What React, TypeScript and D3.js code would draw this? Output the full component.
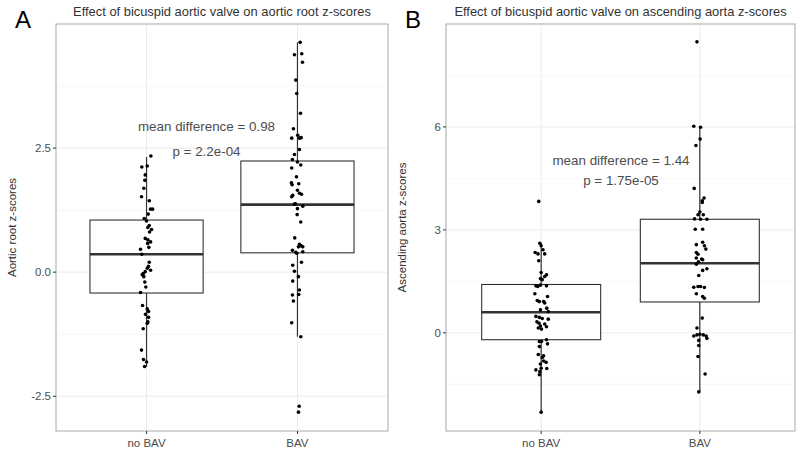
import React from "react";
import * as d3 from "d3";

const categories = ["no BAV", "BAV"];

// Panel A: aortic root z-scores — [value, jitter (1/150 of category step)]
const rootNoBAV: [number, number][] = [
  [2.34, 4.3], [2.12, -4.7], [2.14, 0.7], [1.96, -1.3], [1.85, -1.7], [1.69, -2.7], [1.52, -5], [1.44, 2.7],
  [1.27, 4], [1.27, 6], [1.17, 1.7], [1.08, -2.3], [1.03, 0], [0.94, 2.7], [0.9, 1.3], [0.86, 5], [0.81, 3],
  [0.68, -1.3], [0.65, 1.3], [0.61, 4], [0.58, 1], [0.5, 2.3], [0.46, -6], [0.36, -4.7], [0.2, 2.7], [0.12, 2],
  [0.08, 0.7], [0.04, 4], [0.01, -1.3], [-0.03, -3.3], [-0.05, -4.3], [-0.09, -2.7], [-0.2, -1.7], [-0.3, -0.7],
  [-0.41, -6], [-0.67, -4], [-0.74, 0.7], [-0.79, 2], [-0.85, -1], [-0.91, 2], [-1.0, 1.3], [-1.03, 0.7],
  [-1.14, -3.3], [-1.57, -5], [-1.76, -3], [-1.81, 0], [-1.9, -2],
];
const rootBAV: [number, number][] = [
  [4.63, 2.7], [4.38, -3], [4.4, 4.3], [4.23, 5], [3.87, -1.7], [3.6, -0.7], [3.2, 3], [2.89, -4], [2.76, 0.3],
  [2.7, -5.7], [2.7, 2], [2.71, 3.7], [2.47, 2], [2.37, -3], [2.27, -5], [2.22, 0], [2.16, 3.3], [2.1, -5.7],
  [1.92, -1], [1.8, -6], [1.78, 1.3], [1.76, -5.3], [1.65, 0], [1.59, 2], [1.57, 4], [1.55, -4.7], [1.52, -5.7],
  [1.38, -2], [1.37, -3], [1.33, 5.3], [1.28, 0], [1.16, -0.3], [1.01, 3.3], [0.69, -2.7], [0.56, 2], [0.53, 3.7],
  [0.51, 1], [0.51, 5.3], [0.44, -5], [0.4, -1.7], [0.38, -0.7], [0.41, 5.3], [0.2, 4], [0.14, -4.7],
  [0.02, -3], [-0.09, 1], [-0.18, -4.7], [-0.36, 2], [-0.45, 1.3], [-0.46, -5], [-0.58, -4], [-1.02, -5.7],
  [-1.3, 3.3], [-2.7, 1.7], [-2.82, 1],
];
// box stats: [whiskerLow, q1, median, q3, whiskerHigh]
const rootStats: number[][] = [
  [-1.91, -0.42, 0.36, 1.05, 2.32],
  [-1.3, 0.39, 1.36, 2.24, 4.63],
];
const rootTicks = [-2.5, 0, 2.5];
const rootMinor = [-1.25, 1.25, 3.75];

// Panel B: ascending aorta z-scores
const ascNoBAV: [number, number][] = [
  [3.83, -2.3], [2.61, -1.3], [2.54, 0], [2.34, -5.7], [2.42, 1.7], [2.3, -3], [2.3, 3.3], [2.1, -2.3],
  [1.76, 0], [1.69, 5], [1.64, 3.3], [1.58, -0.7], [1.55, 1], [1.37, -5], [1.35, -3.3], [1.39, -0.7], [1.37, 5],
  [1.14, -6], [1.06, 6], [0.94, -3.7], [0.91, -1.7], [0.91, 2.3], [0.87, 3.3], [0.72, 5.3], [0.67, -0.7],
  [0.62, 6.7], [0.48, -5], [0.45, -1.7], [0.42, 1], [0.4, 6.7], [0.32, -4], [0.28, -2], [0.26, 3.3],
  [0.2, -0.7], [0.18, 5], [0.14, -2.7], [0.11, 0.3], [-0.25, -1.7], [-0.25, 0.3], [-0.2, 5], [-0.32, 6],
  [-0.4, -1.7], [-0.63, -2.7], [-0.67, 2.3], [-0.72, 1], [-0.82, 2.3], [-0.86, 4.7], [-0.91, -0.7],
  [-1.03, 0], [-1.08, -5], [-1.04, 5.3], [-1.13, -1.3], [-1.22, -1.7], [-2.31, 0],
];
const ascBAV: [number, number][] = [
  [8.48, -2.7], [6.02, -5.7], [5.99, 0.7], [5.65, 0.3], [5.46, -3.7], [4.21, -5.3], [3.93, 4], [3.85, 2.3],
  [3.8, 2.3], [3.52, 0], [3.44, -1.7], [3.44, 3.3], [3.32, -5], [3.31, 0.7], [3.31, 6.7], [3.02, -4.3],
  [3.02, 2.7], [2.57, -3.3], [2.64, 2.7], [2.54, 4.3], [2.44, 5.7], [2.34, -3.3], [2.29, -1.7], [2.18, -3.3],
  [2.15, 1.7], [2.07, -1.3], [2.0, -3.3], [2.13, 2.7], [1.87, 6.7], [1.82, 2.7], [1.67, -1], [1.33, -5.7],
  [1.35, -1.7], [1.35, 0.7], [1.32, 4.3], [1.14, -3.3], [1.06, 2.7], [1.01, 4.3], [0.43, 2.3], [0.14, -2.7],
  [-0.09, -5.7], [-0.06, -2.7], [-0.04, 0], [-0.06, 3.3], [-0.09, 6], [-0.16, 6.7], [-0.22, -1],
  [-0.37, -1], [-0.69, -1.7], [-1.2, 5], [-1.72, -1],
];
const ascStats: number[][] = [
  [-2.31, -0.2, 0.6, 1.41, 2.61],
  [-1.72, 0.9, 2.03, 3.31, 5.97],
];
const ascTicks = [0, 3, 6];
const ascMinor = [-1.5, 1.5, 4.5, 7.5];

const FONT = "Liberation Sans, Arial, Helvetica, sans-serif";

type PanelProps = {
  letter: string;
  title: string;
  yTitle: string;
  left: number;
  right: number;
  top: number;
  bottom: number;
  yDomain: [number, number];
  ticks: number[];
  minor: number[];
  tickFmt: (v: number) => string;
  groups: [number, number][][];
  stats: number[][];
  annot: string[];
  annotX: number;
  annotY: number;
  annotGap: number;
};

function Panel(p: PanelProps) {
  const y = d3.scaleLinear().domain(p.yDomain).range([p.bottom, p.top]);
  const x = d3
    .scalePoint<string>()
    .domain(categories)
    .range([p.left, p.right])
    .padding(0.6);
  const step = x.step();
  const boxW = step * 0.75;
  const cx = (p.left + p.right) / 2;
  const cy = (p.top + p.bottom) / 2;
  return (
    <g>
      <text x={p.left - 41} y={28} fontSize={24} fill="#000" fontFamily={FONT}>
        {p.letter}
      </text>
      <text x={cx} y={16} fontSize={12.9} fill="#333" textAnchor="middle" fontFamily={FONT}>
        {p.title}
      </text>
      {/* grid */}
      {p.minor.map((t) => (
        <line key={"mn" + t} x1={p.left} x2={p.right} y1={y(t)} y2={y(t)} stroke="#f2f2f2" strokeWidth={0.6} />
      ))}
      {p.ticks.map((t) => (
        <line key={"mj" + t} x1={p.left} x2={p.right} y1={y(t)} y2={y(t)} stroke="#ebebeb" strokeWidth={1} />
      ))}
      {categories.map((c) => (
        <line key={"vx" + c} x1={x(c)} x2={x(c)} y1={p.top} y2={p.bottom} stroke="#ebebeb" strokeWidth={1} />
      ))}
      {/* boxes */}
      {categories.map((c, i) => {
        const [wl, q1, med, q3, wh] = p.stats[i];
        const xc = x(c)!;
        return (
          <g key={"b" + c}>
            <line x1={xc} x2={xc} y1={y(q3)} y2={y(wh)} stroke="#333" strokeWidth={1.2} />
            <line x1={xc} x2={xc} y1={y(q1)} y2={y(wl)} stroke="#333" strokeWidth={1.2} />
            <rect
              x={xc - boxW / 2}
              y={y(q3)}
              width={boxW}
              height={y(q1) - y(q3)}
              fill="#fff"
              stroke="#333"
              strokeWidth={1.1}
            />
            <line x1={xc - boxW / 2} x2={xc + boxW / 2} y1={y(med)} y2={y(med)} stroke="#333" strokeWidth={2.6} />
          </g>
        );
      })}
      {/* points */}
      {categories.map((c, i) =>
        p.groups[i].map(([v, j], k) => (
          <circle key={c + k} cx={x(c)! + (j / 150) * step} cy={y(v)} r={1.8} fill="#000" />
        ))
      )}
      {/* annotation */}
      {p.annot.map((s, i) => (
        <text
          key={"a" + i}
          x={p.annotX}
          y={p.annotY + i * p.annotGap}
          fontSize={13.4}
          fill="#4d4d4d"
          textAnchor="middle"
          fontFamily={FONT}
        >
          {s}
        </text>
      ))}
      {/* border */}
      <rect
        x={p.left}
        y={p.top}
        width={p.right - p.left}
        height={p.bottom - p.top}
        fill="none"
        stroke="#a8a8a8"
        strokeWidth={1}
      />
      {/* y axis */}
      {p.ticks.map((t) => (
        <g key={"yt" + t}>
          <line x1={p.left - 3} x2={p.left} y1={y(t)} y2={y(t)} stroke="#333" strokeWidth={1} />
          <text
            x={p.left - 5}
            y={y(t)}
            dy="0.35em"
            fontSize={11.5}
            fill="#4d4d4d"
            textAnchor="end"
            fontFamily={FONT}
          >
            {p.tickFmt(t)}
          </text>
        </g>
      ))}
      {/* x axis */}
      {categories.map((c) => (
        <g key={"xt" + c}>
          <line x1={x(c)} x2={x(c)} y1={p.bottom} y2={p.bottom + 3} stroke="#333" strokeWidth={1} />
          <text x={x(c)} y={p.bottom + 16} fontSize={11.5} fill="#4d4d4d" textAnchor="middle" fontFamily={FONT}>
            {c}
          </text>
        </g>
      ))}
      <text
        transform={`translate(${p.left - 40},${cy}) rotate(-90)`}
        fontSize={11.5}
        fill="#333"
        textAnchor="middle"
        fontFamily={FONT}
      >
        {p.yTitle}
      </text>
    </g>
  );
}

export default function App() {
  return (
    <svg width={800} height={453} style={{ position: "absolute", left: 0, top: 0, background: "#fff" }}>
      <rect width={800} height={453} fill="#fff" />
      <Panel
        letter="A"
        title="Effect of bicuspid aortic valve on aortic root z-scores"
        yTitle="Aortic root z-scores"
        left={56}
        right={388}
        top={24}
        bottom={431}
        yDomain={[-3.2, 5.0]}
        ticks={rootTicks}
        minor={rootMinor}
        tickFmt={(v) => d3.format(".1f")(v).replace("−", "-")}
        groups={[rootNoBAV, rootBAV]}
        stats={rootStats}
        annot={["mean difference = 0.98", "p = 2.2e-04"]}
        annotX={206.5}
        annotY={131}
        annotGap={25}
      />
      <Panel
        letter="B"
        title="Effect of bicuspid aortic valve on ascending aorta z-scores"
        yTitle="Ascending aorta z-scores"
        left={446}
        right={795}
        top={24}
        bottom={431}
        yDomain={[-2.86, 9.0]}
        ticks={ascTicks}
        minor={ascMinor}
        tickFmt={(v) => String(v)}
        groups={[ascNoBAV, ascBAV]}
        stats={ascStats}
        annot={["mean difference = 1.44", "p = 1.75e-05"]}
        annotX={621}
        annotY={165}
        annotGap={20}
      />
    </svg>
  );
}
